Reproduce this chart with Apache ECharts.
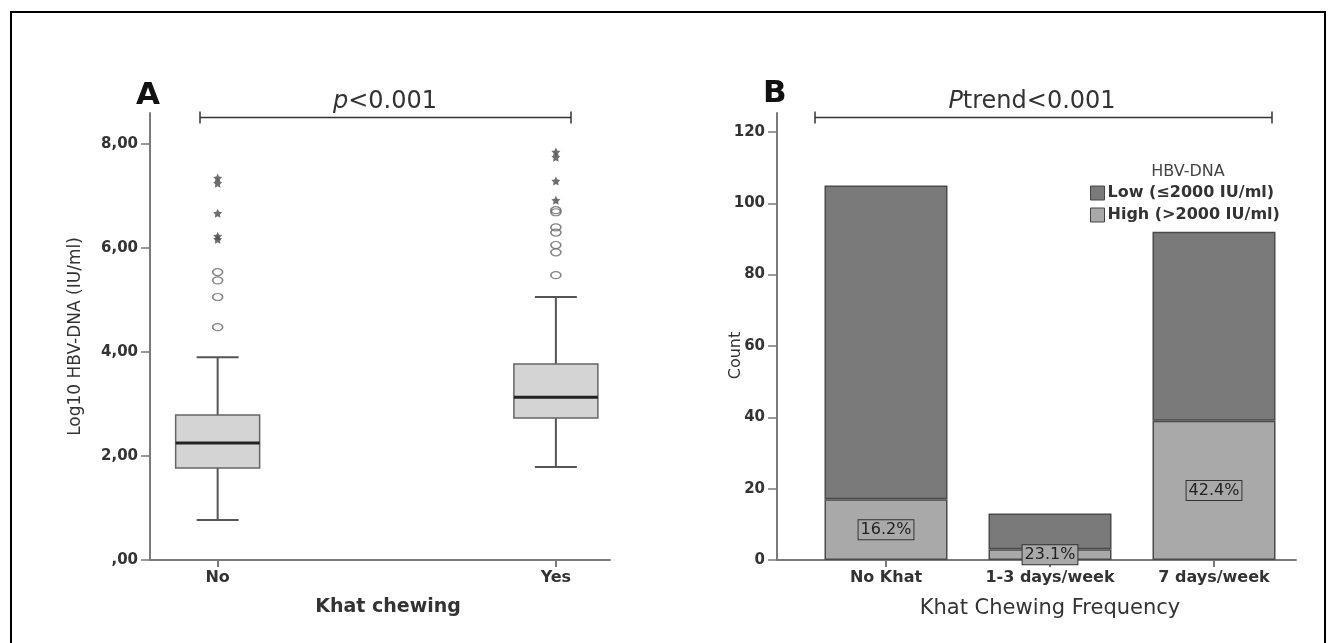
<!DOCTYPE html>
<html>
<head>
<meta charset="utf-8">
<script src="https://cdn.jsdelivr.net/npm/echarts@6/dist/echarts.min.js"></script>
<style>
html, body { margin: 0; padding: 0; background: #fff; }
#main { width: 1332px; height: 643px; }
</style>
</head>
<body>
<div id="main"></div>
<script>
/* Panel A: log10 HBV-DNA by khat chewing */
var chewCats   = ['No', 'Yes'];
// [lower whisker, Q1, median, Q3, upper whisker]
var boxNo      = [0.77, 1.77, 2.25, 2.79, 3.90];
var boxYes     = [1.79, 2.73, 3.13, 3.77, 5.06];
var circleNo   = [5.54, 5.38, 5.06, 4.48];
var starNo     = [7.35, 7.25, 6.67, 6.23, 6.17];
var circleYes  = [6.73, 6.69, 6.40, 6.30, 6.06, 5.92, 5.48];
var starYes    = [7.85, 7.75, 7.29, 6.92];
var logTicks   = [0, 2, 4, 6, 8];

/* Panel B: counts by khat chewing frequency */
var freqCats   = ['No Khat', '1-3 days/week', '7 days/week'];
var lowCounts  = [88, 10, 53];
var highCounts = [17, 3, 39];
var highPct    = ['16.2%', '23.1%', '42.4%'];
var countTicks = [0, 20, 40, 60, 80, 100, 120];

var FONT = 'DejaVu Sans';
var axisColor = '#7a7a7a';
var starPath = 'path://M0,-10L2.9,-4L9.5,-3.1L4.8,1.5L5.9,8.1L0,5L-5.9,8.1L-4.8,1.5L-9.5,-3.1L-2.9,-4Z';

function toPoints(x, list)
{
    return list.map(function(v) { return [x, v]; });
}

function renderBox(params, api)
{
    var x    = api.value(0);
    var lo   = api.coord([x, api.value(1)]);
    var q1   = api.coord([x, api.value(2)]);
    var md   = api.coord([x, api.value(3)]);
    var q3   = api.coord([x, api.value(4)]);
    var hi   = api.coord([x, api.value(5)]);
    var cx   = lo[0];
    var half = 42;
    var cap  = 21;
    var line = {stroke: '#555', lineWidth: 2};
    return {
        type: 'group',
        children: [
            {type: 'line', shape: {x1: cx, y1: lo[1], x2: cx, y2: q1[1]}, style: line},
            {type: 'line', shape: {x1: cx, y1: q3[1], x2: cx, y2: hi[1]}, style: line},
            {type: 'line', shape: {x1: cx - cap, y1: lo[1], x2: cx + cap, y2: lo[1]}, style: line},
            {type: 'line', shape: {x1: cx - cap, y1: hi[1], x2: cx + cap, y2: hi[1]}, style: line},
            {type: 'rect', shape: {x: cx - half, y: q3[1], width: half * 2, height: q1[1] - q3[1]},
                style: {fill: '#d4d4d4', stroke: '#666', lineWidth: 1.5}},
            {type: 'line', shape: {x1: cx - half, y1: md[1], x2: cx + half, y2: md[1]},
                style: {stroke: '#222', lineWidth: 3}}
        ]
    };
}

function bracket(x1, x2, y)
{
    var style = {stroke: '#333', lineWidth: 1.5};
    return [
        {type: 'line', shape: {x1: x1, y1: y, x2: x2, y2: y}, style: style},
        {type: 'line', shape: {x1: x1, y1: y - 6, x2: x1, y2: y + 6}, style: style},
        {type: 'line', shape: {x1: x2, y1: y - 6, x2: x2, y2: y + 6}, style: style}
    ];
}

var tickLabel = {fontFamily: FONT, fontWeight: 'bold', color: '#333'};
var nameStyle = {fontFamily: FONT, color: '#333'};
var lineStyle = {color: axisColor, width: 2};

var chart  = echarts.init(document.getElementById('main'));
var option = {
    backgroundColor: '#fff',
    animation: false,
    grid: [
        {left: 150, top: 113, width: 460, height: 447},
        {left: 804, top: 113, width: 492, height: 447}
    ],
    xAxis: [
        {
            type: 'value', gridIndex: 0, min: -0.2, max: 1.16,
            name: 'Khat chewing', nameLocation: 'middle', nameGap: 38,
            nameTextStyle: Object.assign({fontSize: 19, fontWeight: 'bold', padding: [0, 0, 0, 16]}, nameStyle),
            axisLine: {show: true, onZero: false, lineStyle: lineStyle},
            axisTick: {show: true, length: 7, customValues: [0, 1], lineStyle: lineStyle},
            axisLabel: Object.assign({fontSize: 16, margin: 10, customValues: [0, 1],
                formatter: function(v) { return chewCats[Math.round(v)]; }}, tickLabel),
            splitLine: {show: false}
        },
        {
            type: 'category', gridIndex: 1, data: freqCats,
            name: 'Khat Chewing Frequency', nameLocation: 'middle', nameGap: 38,
            nameTextStyle: Object.assign({fontSize: 21}, nameStyle),
            axisLine: {show: true, onZero: false, lineStyle: lineStyle},
            axisTick: {show: true, length: 7, alignWithLabel: true, lineStyle: lineStyle},
            axisLabel: Object.assign({fontSize: 16, margin: 10, interval: 0}, tickLabel),
            splitLine: {show: false}
        }
    ],
    yAxis: [
        {
            type: 'value', gridIndex: 0, min: 0, max: 8.6,
            name: 'Log10 HBV-DNA (IU/ml)', nameLocation: 'middle', nameGap: 66, nameMoveOverlap: false,
            nameTextStyle: Object.assign({fontSize: 17}, nameStyle),
            axisLine: {show: true, onZero: false, lineStyle: lineStyle},
            axisTick: {show: true, length: 9, customValues: logTicks, lineStyle: {color: axisColor, width: 1.5}},
            axisLabel: Object.assign({fontSize: 15, margin: 12, customValues: logTicks,
                formatter: function(v) { return v === 0 ? ',00' : v.toFixed(2).replace('.', ','); }}, tickLabel),
            splitLine: {show: false}
        },
        {
            type: 'value', gridIndex: 1, min: 0, max: 125.3, offset: 27,
            name: 'Count', nameLocation: 'middle', nameGap: 33, nameMoveOverlap: false,
            nameTextStyle: Object.assign({fontSize: 16, padding: [0, 38, 0, 0]}, nameStyle),
            axisLine: {show: true, onZero: false, lineStyle: lineStyle},
            axisTick: {show: true, length: 9, customValues: countTicks, lineStyle: {color: axisColor, width: 1.5}},
            axisLabel: Object.assign({fontSize: 15, margin: 12, customValues: countTicks}, tickLabel),
            splitLine: {show: false}
        }
    ],
    legend: {
        orient: 'vertical',
        left: 1085,
        top: 180,
        itemGap: 6,
        itemWidth: 14,
        itemHeight: 14,
        icon: 'rect',
        data: ['Low (\u22642000 IU/ml)', 'High (>2000 IU/ml)'],
        itemStyle: {borderColor: '#444', borderWidth: 1},
        textStyle: {fontFamily: FONT, fontWeight: 'bold', fontSize: 16, color: '#333', padding: [0, 0, 0, -2]}
    },
    series: [
        {
            type: 'custom',
            xAxisIndex: 0, yAxisIndex: 0,
            renderItem: renderBox,
            encode: {x: 0, y: [1, 2, 3, 4, 5]},
            data: [[0].concat(boxNo), [1].concat(boxYes)]
        },
        {
            type: 'scatter', xAxisIndex: 0, yAxisIndex: 0,
            symbol: 'circle', symbolSize: [10, 7],
            itemStyle: {color: 'rgba(0,0,0,0)', borderColor: '#666', borderWidth: 1.4},
            data: toPoints(0, circleNo).concat(toPoints(1, circleYes))
        },
        {
            type: 'scatter', xAxisIndex: 0, yAxisIndex: 0,
            symbol: starPath, symbolSize: 9,
            itemStyle: {color: '#4a4a4a'},
            data: toPoints(0, starNo).concat(toPoints(1, starYes))
        },
        {
            name: 'High (>2000 IU/ml)',
            type: 'bar', xAxisIndex: 1, yAxisIndex: 1,
            stack: 'hbv', barWidth: 123,
            itemStyle: {color: '#a9a9a9', borderColor: '#4a4a4a', borderWidth: 1.5},
            label: {
                show: true, position: 'inside',
                formatter: function(p) { return highPct[p.dataIndex]; },
                fontFamily: FONT, fontSize: 16, color: '#222',
                backgroundColor: '#a9a9a9', borderColor: '#333', borderWidth: 1,
                padding: [2, 2, 1, 2]
            },
            z: 3,
            data: highCounts
        },
        {
            name: 'Low (\u22642000 IU/ml)',
            type: 'bar', xAxisIndex: 1, yAxisIndex: 1,
            stack: 'hbv', barWidth: 123,
            itemStyle: {color: '#7a7a7a', borderColor: '#4a4a4a', borderWidth: 1.5},
            data: lowCounts
        }
    ],
    graphic: [
        {type: 'rect', shape: {x: 11, y: 12, width: 1314, height: 700},
            style: {fill: 'none', stroke: '#000', lineWidth: 2}},
        // x axis line of panel B continues to the offset y axis
        {type: 'line', shape: {x1: 777, y1: 560, x2: 805, y2: 560},
            style: {stroke: axisColor, lineWidth: 2}},
        {type: 'text', left: 136, top: 80,
            style: {text: 'A', font: 'bold 31px "DejaVu Sans"', fill: '#111'}},
        {type: 'text', left: 763, top: 78,
            style: {text: 'B', font: 'bold 31px "DejaVu Sans"', fill: '#111'}},
        {type: 'text', x: 385, y: 102,
            style: {text: '{i|p}{n|<0.001}', align: 'center', verticalAlign: 'middle',
                rich: {i: {fontFamily: FONT, fontStyle: 'italic', fontSize: 24, fill: '#333'},
                       n: {fontFamily: FONT, fontSize: 24, fill: '#333'}}}},
        {type: 'text', x: 1032, y: 102,
            style: {text: '{i|P}{n|trend<0.001}', align: 'center', verticalAlign: 'middle',
                rich: {i: {fontFamily: FONT, fontStyle: 'italic', fontSize: 24, fill: '#333'},
                       n: {fontFamily: FONT, fontSize: 24, fill: '#333'}}}},
        {type: 'text', x: 1188, y: 172,
            style: {text: 'HBV-DNA', align: 'center', verticalAlign: 'middle',
                font: '16px "DejaVu Sans"', fill: '#444'}}
    ].concat(bracket(200, 571, 117.5), bracket(815, 1272, 117.5))
};
chart.setOption(option);
</script>
</body>
</html>
